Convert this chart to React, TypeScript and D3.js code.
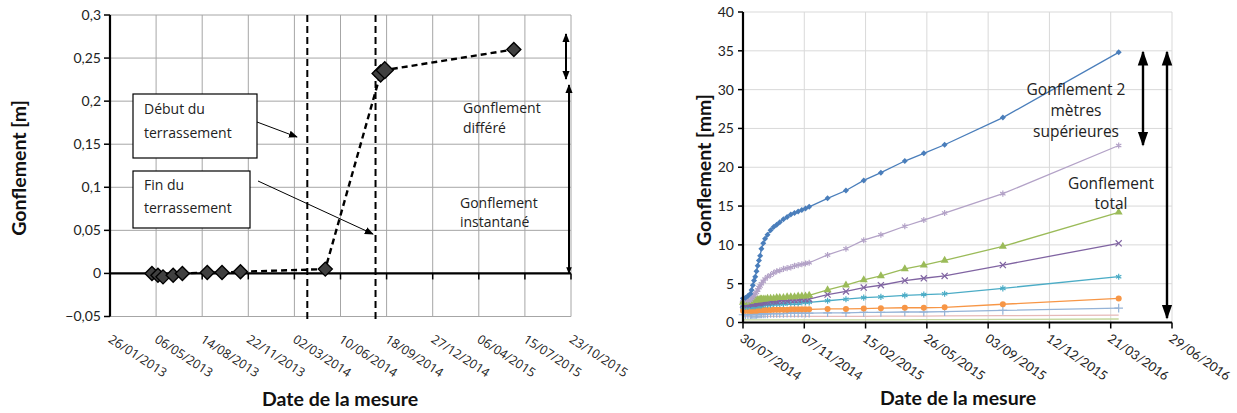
import React from "react";
import * as d3 from "d3";

// ---------- left chart : Gonflement [m]
const leftDates = ["2013-04-27", "2013-05-10", "2013-05-21", "2013-06-12", "2013-07-02", "2013-08-25", "2013-09-26", "2013-11-05", "2014-05-08", "2014-09-05", "2014-09-14", "2015-06-21"];
const leftValues = [0, -0.002, -0.004, -0.002, 0, 0.001, 0.001, 0.002, 0.005, 0.232, 0.236, 0.26];
const leftXTicks = ["26/01/2013", "06/05/2013", "14/08/2013", "22/11/2013", "02/03/2014", "10/06/2014", "18/09/2014", "27/12/2014", "06/04/2015", "15/07/2015", "23/10/2015"];
const leftYTicks = [-0.05, 0, 0.05, 0.1, 0.15, 0.2, 0.25, 0.3];
const phaseDates = ["2014-03-30", "2014-08-25"]; // début / fin du terrassement

// ---------- right chart : Gonflement [mm]
const rightStart = "2014-07-30";
const rightDays = [0, 4, 8, 12, 14, 16, 18, 20, 22, 24, 26, 28, 30, 33, 36, 40, 45, 50, 55, 60, 66, 72, 78, 84, 90, 96, 102, 108,
  138, 168, 197, 225, 264, 295, 329, 424, 613];
const rightXTicks = ["30/07/2014", "07/11/2014", "15/02/2015", "26/05/2015", "03/09/2015", "12/12/2015", "21/03/2016", "29/06/2016"];
const rightYTicks = [0, 5, 10, 15, 20, 25, 30, 35, 40];

const blueVals = [3.1, 3.2, 3.4, 3.7, 4.2, 4.8, 5.4, 5.9, 6.6, 7.3, 8.0, 8.6, 9.5, 10.2, 10.8, 11.3, 11.9, 12.3, 12.6, 12.9, 13.3, 13.6, 13.9, 14.1, 14.3, 14.5, 14.7, 14.9,
  16.0, 17.0, 18.3, 19.3, 20.8, 21.8, 22.9, 26.4, 34.8];
const lavenderVals = [3.0, 2.9, 2.8, 2.9, 3.1, 3.3, 3.5, 3.7, 3.9, 4.2, 4.5, 4.7, 5.0, 5.3, 5.6, 5.9, 6.1, 6.4, 6.6, 6.7, 6.9, 7.0, 7.1, 7.3, 7.4, 7.5, 7.6, 7.7,
  8.7, 9.5, 10.6, 11.3, 12.4, 13.2, 14.1, 16.6, 22.8];
const greenVals = [2.6, 2.6, 2.7, 2.7, 2.8, 2.8, 2.8, 2.9, 2.9, 2.9, 2.9, 3.0, 3.0, 3.0, 3.0, 3.1, 3.1, 3.1, 3.2, 3.2, 3.2, 3.3, 3.3, 3.3, 3.4, 3.4, 3.4, 3.5,
  4.2, 4.8, 5.5, 6.0, 6.9, 7.4, 8.0, 9.8, 14.2];
const purpleVals = [2.3, 2.3, 2.3, 2.4, 2.4, 2.4, 2.4, 2.5, 2.5, 2.5, 2.5, 2.5, 2.6, 2.6, 2.6, 2.6, 2.7, 2.7, 2.7, 2.8, 2.8, 2.8, 2.9, 2.9, 2.9, 3.0, 3.0, 3.0,
  3.6, 4.0, 4.5, 4.8, 5.4, 5.7, 6.0, 7.4, 10.2];
const tealVals = [2.0, 2.0, 2.0, 2.1, 2.1, 2.1, 2.1, 2.1, 2.2, 2.2, 2.2, 2.2, 2.2, 2.3, 2.3, 2.3, 2.3, 2.4, 2.4, 2.4, 2.4, 2.5, 2.5, 2.5, 2.5, 2.6, 2.6, 2.6,
  2.8, 3.0, 3.2, 3.3, 3.5, 3.6, 3.7, 4.4, 5.9];
const orangeVals = [1.5, 1.5, 1.5, 1.5, 1.5, 1.55, 1.55, 1.55, 1.55, 1.55, 1.6, 1.6, 1.6, 1.6, 1.6, 1.6, 1.6, 1.65, 1.65, 1.65, 1.65, 1.65, 1.7, 1.7, 1.7, 1.7, 1.7, 1.7,
  1.75, 1.75, 1.8, 1.85, 1.9, 1.9, 1.95, 2.35, 3.1];
const lightBlueVals = [1.0, 1.0, 1.0, 1.0, 1.05, 1.05, 1.05, 1.05, 1.05, 1.1, 1.1, 1.1, 1.1, 1.1, 1.1, 1.1, 1.15, 1.15, 1.15, 1.15, 1.15, 1.2, 1.2, 1.2, 1.2, 1.2, 1.2, 1.2,
  1.25, 1.25, 1.3, 1.3, 1.35, 1.35, 1.4, 1.55, 1.85];
const pinkVals = [0.75, 0.75, 0.75, 0.75, 0.75, 0.75, 0.75, 0.75, 0.75, 0.75, 0.75, 0.75, 0.78, 0.78, 0.78, 0.78, 0.78, 0.78, 0.78, 0.78, 0.8, 0.8, 0.8, 0.8, 0.8, 0.8, 0.8, 0.8,
  0.8, 0.8, 0.8, 0.82, 0.82, 0.82, 0.85, 0.88, 0.95];
const paleGreenVals = [0.35, 0.35, 0.35, 0.35, 0.35, 0.35, 0.35, 0.35, 0.35, 0.35, 0.35, 0.35, 0.35, 0.35, 0.35, 0.35, 0.35, 0.35, 0.35, 0.35, 0.35, 0.35, 0.35, 0.35, 0.35, 0.35, 0.35, 0.35,
  0.35, 0.35, 0.35, 0.35, 0.35, 0.38, 0.38, 0.4, 0.45];

const rightSeries = [
  { name: "paleGreen", color: "#c3d69b", values: paleGreenVals, marker: "none" },
  { name: "pink", color: "#e6b9b8", values: pinkVals, marker: "none" },
  { name: "lightBlue", color: "#95b3d7", values: lightBlueVals, marker: "plus" },
  { name: "orange", color: "#f79646", values: orangeVals, marker: "circle" },
  { name: "teal", color: "#4bacc6", values: tealVals, marker: "asterisk" },
  { name: "purple", color: "#8064a2", values: purpleVals, marker: "times" },
  { name: "green", color: "#9bbb59", values: greenVals, marker: "triangle" },
  { name: "lavender", color: "#b3a2c7", values: lavenderVals, marker: "asterisk" },
  { name: "blue", color: "#4a7ebb", values: blueVals, marker: "diamond" },
];

const parseIso = d3.timeParse("%Y-%m-%d");
const parseFr = d3.timeParse("%d/%m/%Y");

const tickFont = "Lato, 'Open Sans', sans-serif";
const noteFont = "'Open Sans', 'DejaVu Sans', sans-serif";

const diamondPath = (x: number, y: number, r: number) =>
  `M${x},${y - r}L${x + r},${y}L${x},${y + r}L${x - r},${y}Z`;

function Marker({ kind, x, y, color }: any) {
  if (kind === "none") return null;
  if (kind === "diamond") return <path d={diamondPath(x, y, 3)} fill={color} />;
  if (kind === "circle") return <circle cx={x} cy={y} r={3} fill={color} />;
  if (kind === "triangle") {
    const p = d3.symbol().type(d3.symbolTriangle).size(28)();
    return <path d={p || ""} transform={`translate(${x},${y})`} fill={color} />;
  }
  const type = kind === "plus" ? d3.symbolPlus : kind === "times" ? d3.symbolTimes : d3.symbolAsterisk;
  const p = d3.symbol().type(type).size(26)();
  return <path d={p || ""} transform={`translate(${x},${y})`} fill="none" stroke={color} strokeWidth={1.2} />;
}

function LeftChart() {
  const x = d3.scaleTime()
    .domain([parseFr(leftXTicks[0])!, parseFr(leftXTicks[leftXTicks.length - 1])!])
    .range([110, 571]);
  const y = d3.scaleLinear().domain([-0.05, 0.3]).range([316.5, 15]);
  const pts = leftDates.map((d, i) => ({ date: parseIso(d)!, v: leftValues[i] }));
  const line = d3.line<any>().x(d => x(d.date)).y(d => y(d.v));
  const x0 = x.range()[0], x1 = x.range()[1];

  return (
    <g>
      {leftYTicks.map(t => (
        <line key={"gy" + t} x1={x0} x2={x1} y1={y(t)} y2={y(t)} stroke="#a6a6a6" strokeWidth={1} />
      ))}
      {leftXTicks.map(t => {
        const xx = x(parseFr(t)!);
        return <line key={"gx" + t} x1={xx} x2={xx} y1={y(0.3)} y2={y(-0.05)} stroke="#a6a6a6" strokeWidth={1} />;
      })}
      {/* phases */}
      {phaseDates.map(d => {
        const xx = x(parseIso(d)!);
        return <line key={d} x1={xx} x2={xx} y1={y(0.3)} y2={323} stroke="#000" strokeWidth={2} strokeDasharray="7,4" />;
      })}
      {/* zero line + axes */}
      <line x1={x0} x2={x1} y1={y(0)} y2={y(0)} stroke="#000" strokeWidth={2.2} />
      {leftXTicks.map(t => {
        const xx = x(parseFr(t)!);
        return <line key={"tx" + t} x1={xx} x2={xx} y1={y(0)} y2={y(0) + 6} stroke="#000" strokeWidth={1.5} />;
      })}
      <line x1={x0} x2={x0} y1={y(0.3)} y2={y(-0.05)} stroke="#000" strokeWidth={2.2} />
      {leftYTicks.map(t => (
        <g key={"ty" + t}>
          <line x1={x0 - 6} x2={x0} y1={y(t)} y2={y(t)} stroke="#000" strokeWidth={1.5} />
          <text x={x0 - 9} y={y(t)} dy="0.35em" textAnchor="end" fontFamily={tickFont} fontSize={14} fill="#222">
            {d3.format(".2~f")(t).replace(".", ",")}
          </text>
        </g>
      ))}
      {leftXTicks.map(t => {
        const xx = x(parseFr(t)!);
        return (
          <text key={"lx" + t} transform={`translate(${xx + 3},${333}) rotate(33)`} dy="0.8em"
            fontFamily={noteFont} fontSize={12.5} fill="#222">{t}</text>
        );
      })}
      {/* data */}
      <path d={line(pts) || ""} fill="none" stroke="#000" strokeWidth={2.4} strokeDasharray="6,4" />
      {pts.map((p, i) => (
        <path key={i} d={diamondPath(x(p.date), y(p.v), i >= 9 && i <= 10 ? 8.5 : 7)} fill="#404040" stroke="#000" strokeWidth={1.4} />
      ))}
      {/* annotations */}
      <rect x={133} y={94} width={124} height={64} fill="#fff" stroke="#000" strokeWidth={1.2} />
      <text fontFamily={noteFont} fontSize={14} fill="#222">
        <tspan x={144} y={114}>Début du</tspan>
        <tspan x={144} y={138}>terrassement</tspan>
      </text>
      <line x1={257} y1={122} x2={297} y2={137} stroke="#000" strokeWidth={1} markerEnd="url(#arrSmall)" />
      <rect x={133} y={171} width={117} height={57} fill="#fff" stroke="#000" strokeWidth={1.2} />
      <text fontFamily={noteFont} fontSize={14} fill="#222">
        <tspan x={144} y={190}>Fin du</tspan>
        <tspan x={144} y={213}>terrassement</tspan>
      </text>
      <line x1={258} y1={181} x2={373} y2={234} stroke="#000" strokeWidth={1} markerEnd="url(#arrSmall)" />
      <text fontFamily={noteFont} fontSize={14} fill="#222">
        <tspan x={463} y={113}>Gonflement</tspan>
        <tspan x={463} y={133}>différé</tspan>
      </text>
      <text fontFamily={noteFont} fontSize={14} fill="#222">
        <tspan x={460} y={208}>Gonflement</tspan>
        <tspan x={460} y={227}>instantané</tspan>
      </text>
      <line x1={566} x2={566} y1={34} y2={79} stroke="#000" strokeWidth={2}
        markerStart="url(#arrMid)" markerEnd="url(#arrMid)" />
      <line x1={569} x2={569} y1={85} y2={y(0)} stroke="#000" strokeWidth={2}
        markerStart="url(#arrMid)" markerEnd="url(#arrTiny)" />
      {/* titles */}
      <text transform={`translate(26,168) rotate(-90)`} textAnchor="middle" fontFamily={tickFont}
        fontWeight="bold" fontSize={19.5} fill="#111">Gonflement [m]</text>
      <text x={340} y={406} textAnchor="middle" fontFamily={tickFont} fontWeight="bold" fontSize={19.5} fill="#111">
        Date de la mesure
      </text>
    </g>
  );
}

function RightChart() {
  const start = parseIso(rightStart)!;
  const x = d3.scaleTime()
    .domain([parseFr(rightXTicks[0])!, parseFr(rightXTicks[rightXTicks.length - 1])!])
    .range([743, 1172]);
  const y = d3.scaleLinear().domain([0, 40]).range([322.5, 12]);
  const dates = rightDays.map(d => d3.timeDay.offset(start, d));
  const line = d3.line<number>().x((_, i) => x(dates[i])).y(v => y(v));
  const x0 = 743, x1 = 1172;

  return (
    <g>
      {rightYTicks.map(t => (
        <line key={"gy" + t} x1={x0} x2={x1} y1={y(t)} y2={y(t)} stroke="#d9d9d9" strokeWidth={1} />
      ))}
      {rightXTicks.map(t => {
        const xx = x(parseFr(t)!);
        return <line key={"gx" + t} x1={xx} x2={xx} y1={y(40)} y2={y(0)} stroke="#d9d9d9" strokeWidth={1} />;
      })}
      {rightSeries.map(s => (
        <g key={s.name}>
          <path d={line(s.values) || ""} fill="none" stroke={s.color} strokeWidth={1.3} />
          {s.values.map((v, i) => (
            <Marker key={i} kind={s.marker} x={x(dates[i])} y={y(v)} color={s.color} />
          ))}
        </g>
      ))}
      <line x1={x0} x2={x1} y1={y(0)} y2={y(0)} stroke="#000" strokeWidth={2.2} />
      {rightXTicks.map(t => {
        const xx = x(parseFr(t)!);
        return (
          <g key={"tx" + t}>
            <line x1={xx} x2={xx} y1={y(0)} y2={y(0) + 6} stroke="#000" strokeWidth={1.5} />
            <text transform={`translate(${xx + 2},${332}) rotate(35)`} dy="0.8em"
              fontFamily={tickFont} fontSize={12.8} fill="#222">{t}</text>
          </g>
        );
      })}
      <line x1={x0} x2={x0} y1={y(40)} y2={y(0)} stroke="#000" strokeWidth={2.2} />
      {rightYTicks.map(t => (
        <g key={"ty" + t}>
          <line x1={x0 - 5} x2={x0} y1={y(t)} y2={y(t)} stroke="#000" strokeWidth={1.5} />
          <text x={x0 - 9} y={y(t)} dy="0.35em" textAnchor="end" fontFamily={tickFont} fontSize={14} fill="#222">{t}</text>
        </g>
      ))}
      {/* annotations */}
      <text textAnchor="middle" fontFamily={noteFont} fontSize={15.5} fill="#222">
        <tspan x={1076} y={95}>Gonflement 2</tspan>
        <tspan x={1076} y={116}>mètres</tspan>
        <tspan x={1076} y={137}>supérieures</tspan>
      </text>
      <text textAnchor="middle" fontFamily={noteFont} fontSize={15.5} fill="#222">
        <tspan x={1111} y={189}>Gonflement</tspan>
        <tspan x={1111} y={209}>total</tspan>
      </text>
      <line x1={1143} x2={1143} y1={52} y2={145} stroke="#000" strokeWidth={2.4}
        markerStart="url(#arrBig)" markerEnd="url(#arrBig)" />
      <line x1={1167} x2={1167} y1={52} y2={318} stroke="#000" strokeWidth={2.4}
        markerStart="url(#arrBig)" markerEnd="url(#arrBig)" />
      {/* titles */}
      <text transform={`translate(711,170) rotate(-90)`} textAnchor="middle" fontFamily={tickFont}
        fontWeight="bold" fontSize={19.5} fill="#111">Gonflement [mm]</text>
      <text x={958} y={405} textAnchor="middle" fontFamily={tickFont} fontWeight="bold" fontSize={19.5} fill="#111">
        Date de la mesure
      </text>
    </g>
  );
}

export default function App() {
  return (
    <div style={{ position: "absolute", left: 0, top: 0 }}>
      <svg width={1237} height={413} viewBox="0 0 1237 413" style={{ display: "block", background: "#fff" }}>
        <defs>
          <marker id="arrSmall" viewBox="0 0 10 10" refX="9" refY="5" markerWidth="9" markerHeight="9"
            markerUnits="userSpaceOnUse" orient="auto-start-reverse">
            <path d="M0,1L10,5L0,9Z" fill="#000" />
          </marker>
          <marker id="arrMid" viewBox="0 0 10 10" refX="9" refY="5" markerWidth="9" markerHeight="9"
            markerUnits="userSpaceOnUse" orient="auto-start-reverse">
            <path d="M0,1L10,5L0,9Z" fill="#000" />
          </marker>
          <marker id="arrTiny" viewBox="0 0 10 10" refX="9" refY="5" markerWidth="7" markerHeight="7"
            markerUnits="userSpaceOnUse" orient="auto-start-reverse">
            <path d="M0,1L10,5L0,9Z" fill="#000" />
          </marker>
          <marker id="arrBig" viewBox="0 0 10 10" refX="9" refY="5" markerWidth="15" markerHeight="15"
            markerUnits="userSpaceOnUse" orient="auto-start-reverse">
            <path d="M0,1.5L10,5L0,8.5Z" fill="#000" />
          </marker>
        </defs>
        <LeftChart />
        <RightChart />
      </svg>
    </div>
  );
}
